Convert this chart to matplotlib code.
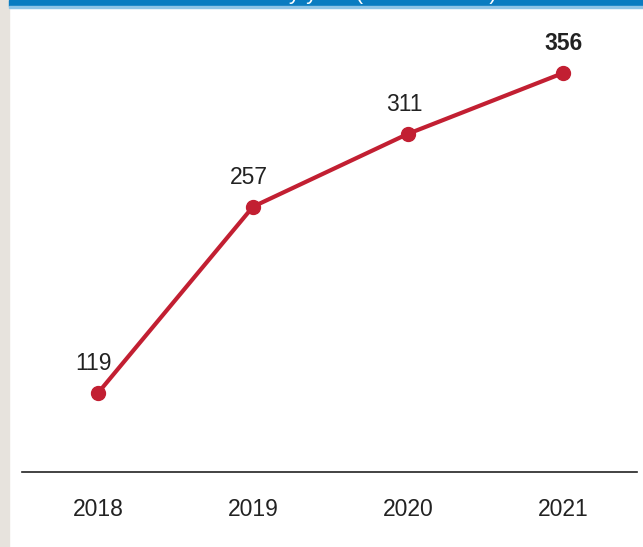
import matplotlib.pyplot as plt
from matplotlib.patches import Rectangle

years = ["2018", "2019", "2020", "2021"]
values = [119, 257, 311, 356]
header = "Customers by year (in thousands)"

plt.rcParams['font.family'] = ['Liberation Sans', 'DejaVu Sans']

W, H = 643, 547
fig = plt.figure(figsize=(W / 100, H / 100), dpi=100)
fig.patch.set_facecolor('white')

# side strip and header bar
fig.add_artist(Rectangle((0, 0), 9 / W, 1, transform=fig.transFigure, color='#e7e3dd', zorder=0))
fig.add_artist(Rectangle((9 / W, 1 - 6 / H), 1, 6 / H, transform=fig.transFigure, color='#0a7cc1', zorder=1))
fig.add_artist(Rectangle((9 / W, 1 - 8 / H), 1, 2 / H, transform=fig.transFigure, color='#8fc4e6', zorder=1))
fig.text(330 / W, 1 + 1 / H, header, color='white', fontsize=16, ha='center', va='baseline', zorder=2)

ax = fig.add_axes([22 / W, (H - 472) / H, (637 - 22) / W, (472 - 10) / H])
x = list(range(len(years)))
ax.plot(x, values, color='#c21f32', lw=3, marker='o', markersize=10, solid_capstyle='round', zorder=3)

for i, v in enumerate(values):
    ax.annotate(str(v), (i, v), xytext=(-3 if i < 3 else 0, 13), textcoords='offset points',
                ha='center', va='bottom', fontsize=16.5, color='#222222',
                fontweight='bold' if i == len(values) - 1 else 'normal')

ax.set_xlim(-0.49, 3.477)
ax.set_ylim(60.5, 402.7)
ax.set_xticks(x)
ax.set_xticklabels(years, fontsize=16.5, color='#222222')
ax.tick_params(axis='x', length=0, pad=19)
ax.set_yticks([])
for s in ['top', 'right', 'left']:
    ax.spines[s].set_visible(False)
ax.spines['bottom'].set_color('#222222')
ax.spines['bottom'].set_linewidth(1.2)
ax.patch.set_alpha(0)

fig.savefig('out.png', dpi=100)
